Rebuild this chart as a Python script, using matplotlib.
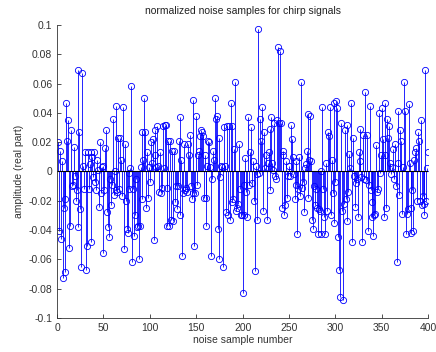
import numpy as np
from matplotlib import pyplot as plt
from matplotlib.ticker import FuncFormatter

# noise samples (real part), samples 1..400
noise = [
    0.020, -0.041, 0.014, -0.046, 0.007, -0.073, -0.025, -0.019, -0.069, 0.047,
    0.021, 0.035, -0.052, -0.037, 0.028, -0.010, -0.009, 0.017, -0.003, -0.020,
    -0.013, 0.069, -0.038, 0.027, -0.026, -0.065, 0.067, 0.004, -0.012, 0.013,
    -0.067, -0.051, 0.013, -0.012, 0.005, -0.048, 0.013, 0.010, -0.004, 0.013,
    -0.007, -0.013, 0.008, 0.001, -0.024, 0.020, -0.015, 0.003, -0.056, 0.004,
    -0.013, 0.016, 0.028, -0.028, -0.038, -0.045, -0.005, -0.023, -0.009, 0.036,
    -0.016, 0.000, -0.013, 0.045, -0.014, 0.023, -0.012, 0.023, 0.008, -0.017,
    0.044, -0.053, 0.019, -0.020, -0.039, -0.042, -0.012, -0.001, 0.002, 0.058,
    -0.062, -0.012, -0.044, -0.030, -0.005, -0.038, -0.037, -0.060, -0.037, 0.003,
    0.027, -0.019, 0.008, 0.050, 0.027, -0.025, 0.013, -0.018, 0.003, -0.007,
    0.020, 0.006, 0.022, -0.047, 0.011, 0.028, 0.003, 0.031, 0.004, -0.014,
    0.013, -0.015, -0.011, 0.031, 0.002, 0.032, 0.032, -0.011, -0.037, 0.021,
    -0.037, 0.021, -0.033, 0.014, -0.034, 0.014, -0.021, -0.010, -0.026, -0.010,
    0.021, 0.037, -0.030, 0.008, -0.058, -0.015, 0.019, -0.013, -0.011, -0.014,
    0.019, 0.011, 0.025, -0.010, -0.019, -0.015, 0.049, -0.051, -0.015, 0.038,
    -0.009, 0.011, 0.014, 0.024, 0.028, 0.027, 0.024, -0.018, 0.011, -0.018,
    -0.037, 0.004, 0.021, 0.020, 0.003, -0.058, -0.005, 0.014, 0.008, 0.050,
    0.036, 0.038, -0.039, -0.060, 0.023, -0.004, 0.004, 0.003, -0.065, 0.030,
    0.004, -0.028, 0.031, -0.030, 0.031, -0.033, 0.047, -0.021, 0.031, -0.019,
    0.015, 0.061, -0.027, -0.025, -0.022, 0.019, -0.012, -0.030, -0.030, -0.083,
    -0.030, -0.009, 0.009, -0.014, -0.031, 0.037, -0.009, 0.013, 0.030, -0.008,
    0.007, -0.020, -0.068, 0.004, -0.002, -0.033, 0.097, -0.001, 0.036, 0.021,
    0.044, -0.027, 0.027, 0.002, 0.011, -0.033, 0.006, 0.013, -0.013, 0.029,
    0.037, 0.006, 0.001, 0.033, -0.003, -0.005, 0.035, 0.085, 0.033, 0.082,
    0.033, -0.025, 0.014, 0.011, -0.030, -0.023, 0.007, -0.018, -0.003, 0.004,
    -0.003, 0.032, 0.022, 0.010, -0.002, -0.019, -0.009, 0.007, -0.043, -0.012,
    0.010, -0.017, 0.061, -0.011, -0.007, -0.028, 0.002, 0.005, 0.014, -0.018,
    0.039, 0.008, 0.038, 0.007, -0.033, -0.039, -0.010, -0.023, -0.012, -0.025,
    -0.043, -0.026, -0.027, -0.043, 0.000, 0.044, -0.012, -0.031, -0.043, 0.006,
    -0.027, 0.027, 0.024, 0.044, -0.030, 0.008, -0.015, -0.035, 0.047, -0.007,
    0.048, 0.043, -0.045, -0.067, -0.086, 0.033, -0.027, -0.088, -0.022, 0.028,
    -0.019, 0.032, -0.034, -0.014, 0.012, 0.002, 0.047, -0.048, 0.023, -0.003,
    -0.024, -0.008, -0.005, -0.031, 0.013, 0.007, 0.029, -0.004, -0.048, 0.025,
    -0.005, 0.054, -0.006, 0.025, -0.041, -0.009, 0.045, -0.013, -0.031, -0.021,
    -0.044, -0.030, -0.029, 0.018, -0.014, -0.012, 0.040, -0.001, 0.011, 0.043,
    0.022, -0.031, 0.047, 0.011, -0.025, 0.036, 0.023, 0.031, 0.006, -0.002,
    0.003, 0.015, -0.005, 0.019, -0.010, -0.062, 0.006, 0.041, -0.016, 0.028,
    0.021, -0.029, 0.003, 0.061, 0.041, -0.043, -0.029, -0.026, 0.046, 0.006,
    -0.042, -0.025, -0.013, -0.041, 0.008, 0.013, 0.016, -0.020, 0.027, 0.021,
    -0.020, 0.035, -0.023, -0.017, -0.022, -0.030, 0.069, -0.020, 0.002, 0.013,
]
sample_no = np.arange(1, len(noise) + 1)

xticks = [0, 50, 100, 150, 200, 250, 300, 350, 400]
yticks = [-0.1, -0.08, -0.06, -0.04, -0.02, 0, 0.02, 0.04, 0.06, 0.08, 0.1]

plt.rcParams['font.family'] = ['Liberation Sans', 'DejaVu Sans']
plt.rcParams['font.size'] = 7.5

fig = plt.figure(figsize=(4.36, 3.52), dpi=100)
ax = fig.add_axes([0.131, 0.097, 0.851, 0.832])

markerline, stemlines, baseline = ax.stem(sample_no, noise, linefmt='b-', markerfmt='bo', basefmt='k-')
markerline.set_markerfacecolor('none')
markerline.set_markersize(4.5)
markerline.set_markeredgewidth(0.6)
stemlines.set_linewidth(0.6)
baseline.set_linewidth(0.8)
baseline.set_xdata([0, 400])

ax.set_xlim(0, 400)
ax.set_ylim(-0.1, 0.1)
ax.set_xticks(xticks)
ax.set_yticks(yticks)
ax.yaxis.set_major_formatter(FuncFormatter(lambda v, p: '%g' % round(v, 3) if abs(v) > 1e-9 else '0'))
ax.tick_params(direction='in', length=3, width=0.6, colors='#333333', labelcolor='#333333')
ax.spines['top'].set_visible(False)
ax.spines['right'].set_visible(False)
for s in ['left', 'bottom']:
    ax.spines[s].set_linewidth(0.6)
    ax.spines[s].set_color('#333333')

ax.set_title('normalized noise samples for chirp signals', fontsize=7.5, color='#222222', pad=8)
ax.set_xlabel('noise sample number', color='#333333', labelpad=2)
ax.set_ylabel('amplitude (real part)', color='#333333', labelpad=3)

fig.savefig('out.png', dpi=100)
